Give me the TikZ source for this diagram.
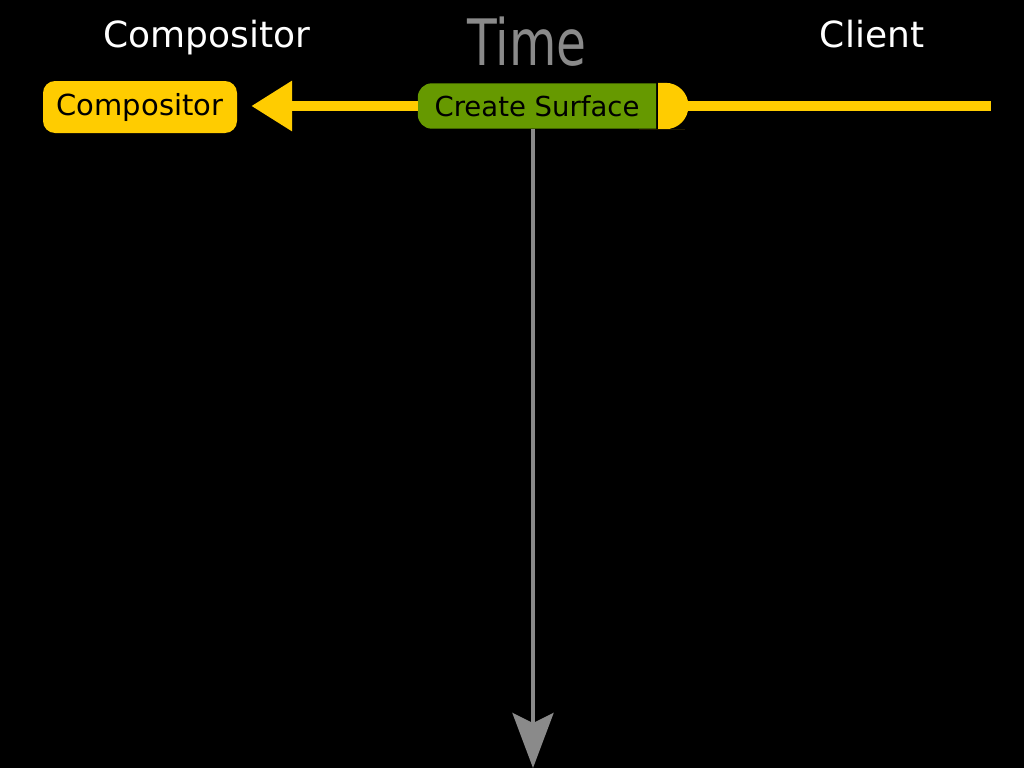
\documentclass[tikz,border=0pt]{standalone}
\usepackage{fontspec}
\setmainfont{DejaVu Sans}
\usetikzlibrary{arrows.meta,backgrounds,positioning}
\definecolor{wlyellow}{HTML}{FFCC00}
\definecolor{wlgreen}{HTML}{669900}
\definecolor{wlgray}{HTML}{8A8A8A}

\begin{document}
\begin{tikzpicture}[x=1pt,y=-1pt,
    heading/.style={text=white,font=\fontsize{36}{40}\selectfont,anchor=base,inner sep=0pt},
    compbox/.style={fill=wlyellow,rounded corners=12pt,minimum width=194pt,minimum height=52pt,
                    inner sep=0pt,font=\fontsize{29}{32}\selectfont},
    surfacebox/.style={minimum width=238pt,minimum height=45pt,inner sep=0pt,
                    font=\fontsize{27.5}{30}\selectfont},
    capbox/.style={minimum width=30pt,minimum height=46pt,inner sep=0pt},
    wire/.style={wlyellow,line width=10pt}]
   \useasboundingbox (0,0) rectangle (1024,768);
   \begin{pgfonlayer}{background}
     \fill[black] (0,0) rectangle (1024,768);
   \end{pgfonlayer}

   % headings
   \node[heading] (hcomp) at (207,48) {Compositor};
   \node[heading] (hclient) at (872,48) {Client};
   \node[heading,text=wlgray,font=\fontsize{64}{70}\selectfont] (htime) at (527,65)
        {\scalebox{0.76}[1]{Time}};

   % the request
   \node[compbox] (comp) at (140,107) {Compositor};
   \node[surfacebox] (create) at (537,106) {Create Surface};
   \node[capbox,anchor=west] (cap) at (658,106) {};
   \coordinate (clientend) at (991,106);
   \coordinate (timeend) at (533,768);

   \begin{pgfonlayer}{background}
     \fill[wlgreen] (create.north east) -- (create.north) [rounded corners=14pt]
        -- (create.north west) -- (create.south west) -- (create.south) [sharp corners]
        -- (create.south east) -- cycle;
     \fill[wlyellow] (cap.north west) -- ([xshift=4pt]cap.north west) [rounded corners=22.9pt]
        -- (cap.north east) -- (cap.south east) -- ([xshift=4pt]cap.south west) [sharp corners]
        -- (cap.south west) -- cycle;
   \end{pgfonlayer}

   \draw[wire,-{Triangle[length=41pt,width=48pt]},shorten >=14pt] (create.west) -- (create.west -| comp.east);
   \draw[wire] (cap.east) -- (clientend);

   % time axis
   \draw[wlgray,line width=4pt,-{Stealth[length=55pt,width=41pt,inset=10pt]}]
        (timeend |- create.south) -- (timeend);
\end{tikzpicture}
\end{document}
